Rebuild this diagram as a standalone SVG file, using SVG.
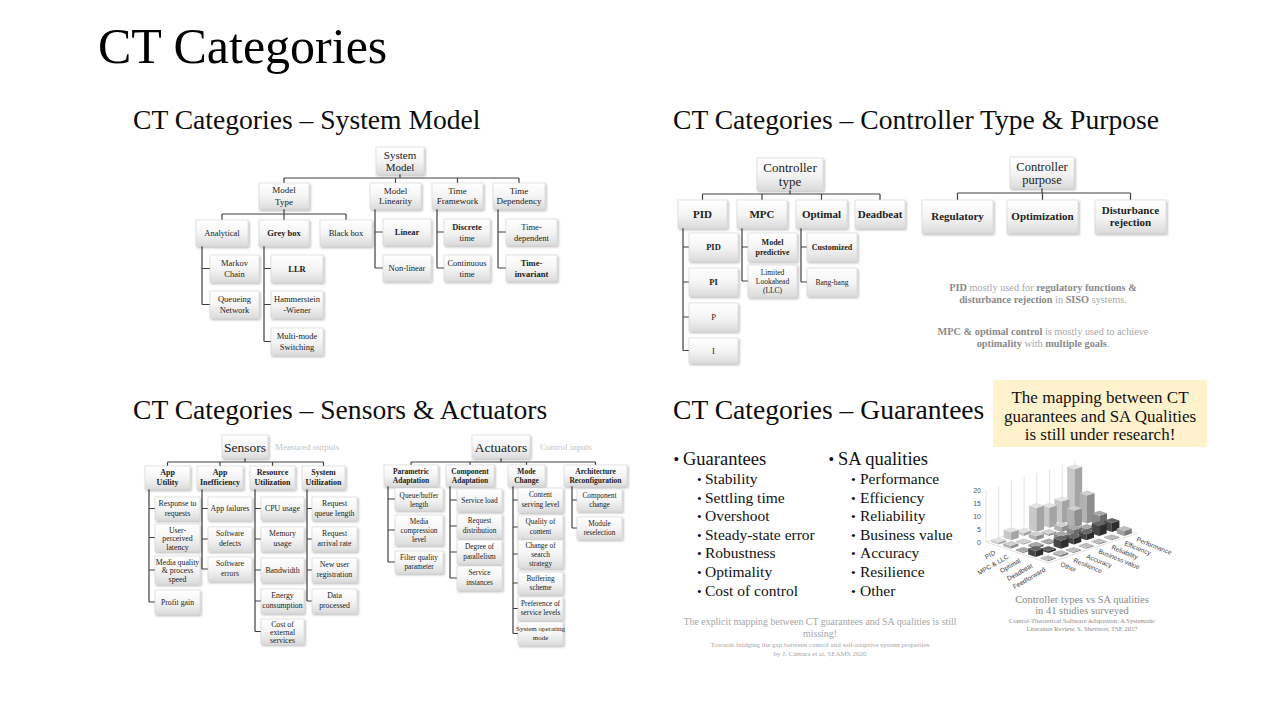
<svg xmlns="http://www.w3.org/2000/svg" width="1280" height="720" viewBox="0 0 1280 720" fill="#222">
<defs>
  <linearGradient id="bx" x1="0" y1="0" x2="0" y2="1">
    <stop offset="0" stop-color="#ffffff"/>
    <stop offset="0.5" stop-color="#f5f5f5"/>
    <stop offset="1" stop-color="#dcdcdc"/>
  </linearGradient>
  <filter id="sh" x="-20%" y="-20%" width="150%" height="160%">
    <feDropShadow dx="1.2" dy="1.6" stdDeviation="1" flood-color="#000" flood-opacity="0.3"/>
  </filter>
  <!-- 3D bar prisms, one per height; face colours are custom properties set on each use element -->
  <g id="h1"><path style="fill:var(--l)" d="M0 0L7.4 2.5V1.5L0 -1Z"/><path style="fill:var(--r)" d="M7.4 2.5L15 0V-1L7.4 1.5Z"/><path style="fill:var(--t)" d="M0 -1L7.4 1.5L15 -1L7.6 -3.5Z"/></g>
  <g id="h2"><path style="fill:var(--l)" d="M0 0L7.4 2.5V0.5L0 -2Z"/><path style="fill:var(--r)" d="M7.4 2.5L15 0V-2L7.4 0.5Z"/><path style="fill:var(--t)" d="M0 -2L7.4 0.5L15 -2L7.6 -4.5Z"/></g>
  <g id="h3"><path style="fill:var(--l)" d="M0 0L7.4 2.5V-0.5L0 -3Z"/><path style="fill:var(--r)" d="M7.4 2.5L15 0V-3L7.4 -0.5Z"/><path style="fill:var(--t)" d="M0 -3L7.4 -0.5L15 -3L7.6 -5.5Z"/></g>
  <g id="h4"><path style="fill:var(--l)" d="M0 0L7.4 2.5V-1.5L0 -4Z"/><path style="fill:var(--r)" d="M7.4 2.5L15 0V-4L7.4 -1.5Z"/><path style="fill:var(--t)" d="M0 -4L7.4 -1.5L15 -4L7.6 -6.5Z"/></g>
  <g id="h5"><path style="fill:var(--l)" d="M0 0L7.4 2.5V-2.5L0 -5Z"/><path style="fill:var(--r)" d="M7.4 2.5L15 0V-5L7.4 -2.5Z"/><path style="fill:var(--t)" d="M0 -5L7.4 -2.5L15 -5L7.6 -7.5Z"/></g>
  <g id="h6"><path style="fill:var(--l)" d="M0 0L7.4 2.5V-3.5L0 -6Z"/><path style="fill:var(--r)" d="M7.4 2.5L15 0V-6L7.4 -3.5Z"/><path style="fill:var(--t)" d="M0 -6L7.4 -3.5L15 -6L7.6 -8.5Z"/></g>
  <g id="h8"><path style="fill:var(--l)" d="M0 0L7.4 2.5V-5.5L0 -8Z"/><path style="fill:var(--r)" d="M7.4 2.5L15 0V-8L7.4 -5.5Z"/><path style="fill:var(--t)" d="M0 -8L7.4 -5.5L15 -8L7.6 -10.5Z"/></g>
  <g id="h9"><path style="fill:var(--l)" d="M0 0L7.4 2.5V-6.5L0 -9Z"/><path style="fill:var(--r)" d="M7.4 2.5L15 0V-9L7.4 -6.5Z"/><path style="fill:var(--t)" d="M0 -9L7.4 -6.5L15 -9L7.6 -11.5Z"/></g>
  <g id="h10"><path style="fill:var(--l)" d="M0 0L7.4 2.5V-7.5L0 -10Z"/><path style="fill:var(--r)" d="M7.4 2.5L15 0V-10L7.4 -7.5Z"/><path style="fill:var(--t)" d="M0 -10L7.4 -7.5L15 -10L7.6 -12.5Z"/></g>
  <g id="h12"><path style="fill:var(--l)" d="M0 0L7.4 2.5V-9.5L0 -12Z"/><path style="fill:var(--r)" d="M7.4 2.5L15 0V-12L7.4 -9.5Z"/><path style="fill:var(--t)" d="M0 -12L7.4 -9.5L15 -12L7.6 -14.5Z"/></g>
  <g id="h17"><path style="fill:var(--l)" d="M0 0L7.4 2.5V-14.5L0 -17Z"/><path style="fill:var(--r)" d="M7.4 2.5L15 0V-17L7.4 -14.5Z"/><path style="fill:var(--t)" d="M0 -17L7.4 -14.5L15 -17L7.6 -19.5Z"/></g>
  <g id="h20"><path style="fill:var(--l)" d="M0 0L7.4 2.5V-17.5L0 -20Z"/><path style="fill:var(--r)" d="M7.4 2.5L15 0V-20L7.4 -17.5Z"/><path style="fill:var(--t)" d="M0 -20L7.4 -17.5L15 -20L7.6 -22.5Z"/></g>
  <g id="h22"><path style="fill:var(--l)" d="M0 0L7.4 2.5V-19.5L0 -22Z"/><path style="fill:var(--r)" d="M7.4 2.5L15 0V-22L7.4 -19.5Z"/><path style="fill:var(--t)" d="M0 -22L7.4 -19.5L15 -22L7.6 -24.5Z"/></g>
  <g id="h24"><path style="fill:var(--l)" d="M0 0L7.4 2.5V-21.5L0 -24Z"/><path style="fill:var(--r)" d="M7.4 2.5L15 0V-24L7.4 -21.5Z"/><path style="fill:var(--t)" d="M0 -24L7.4 -21.5L15 -24L7.6 -26.5Z"/></g>
  <g id="h28"><path style="fill:var(--l)" d="M0 0L7.4 2.5V-25.5L0 -28Z"/><path style="fill:var(--r)" d="M7.4 2.5L15 0V-28L7.4 -25.5Z"/><path style="fill:var(--t)" d="M0 -28L7.4 -25.5L15 -28L7.6 -30.5Z"/></g>
  <g id="h50"><path style="fill:var(--l)" d="M0 0L7.4 2.5V-47.5L0 -50Z"/><path style="fill:var(--r)" d="M7.4 2.5L15 0V-50L7.4 -47.5Z"/><path style="fill:var(--t)" d="M0 -50L7.4 -47.5L15 -50L7.6 -52.5Z"/></g>
</defs>
<style>
  text{font-family:"Liberation Serif","DejaVu Serif",serif}
  .n{fill:url(#bx);stroke:#d2d2d2;stroke-width:.6;filter:url(#sh)}
  .m{text-anchor:middle}
  .b{font-weight:bold}
  .c{fill:none;stroke:#404040;stroke-width:1.2}
  .hd{font-size:27.6px;fill:#0d0d0d}
  .g{fill:#a6a6a6}
  .gb{fill:#8a8a8a;font-weight:bold}
  .faint{fill:#c4c4c4}
  .cap{fill:#8a8a8a}
  .lbl{font-family:"Liberation Sans",sans-serif;font-size:6.5px;fill:#404040}
  .ax{font-family:"Liberation Sans",sans-serif;font-size:7px;fill:#595959;text-anchor:end}
  .bl{fill:#111}
  .b0{--l:#c8c8c8;--r:#a4a4a4;--t:#e2e2e2}
  .b1{--l:#b2b2b2;--r:#8e8e8e;--t:#d0d0d0}
  .b2{--l:#8a8a8a;--r:#6a6a6a;--t:#a8a8a8}
  .b3{--l:#474747;--r:#2e2e2e;--t:#666666}
  .b4{--l:#a0a0a0;--r:#7c7c7c;--t:#bdbdbd}
</style>

<rect width="1280" height="720" fill="#ffffff"/>

<!-- headings -->
<text x="98" y="63" font-size="50" fill="#000">CT Categories</text>
<text class="hd" x="133" y="129">CT Categories – System Model</text>
<text class="hd" x="673" y="129">CT Categories – Controller Type &amp; Purpose</text>
<text class="hd" x="133" y="419">CT Categories – Sensors &amp; Actuators</text>
<text class="hd" x="673" y="419">CT Categories – Guarantees</text>

<!-- tree connectors -->
<g id="connectors">
  <path class="c" d="M400 174V178M284 178H519M284 178V183M395.5 178V183M457.5 178V183M519 178V183
    M284 209V214M222 214H346M222 214V220M284 214V220M346 214V220
    M202 246V304.5M202 268.5H210M202 304.5H210
    M264 246V341.5M264 268.5H271M264 304.5H271M264 341.5H271
    M375 209V268M375 232H383M375 268H383
    M437 209V268M437 232H444M437 268H444
    M498 209V268M498 232H506M498 268H506"/>
  <path class="c" d="M790 190V194M702.5 194H880M702.5 194V200M762 194V200M821.5 194V200M880 194V200
    M683 228V350.5M683 247H689M683 282H689M683 317H689M683 350.5H689
    M742 228V281M742 247H748M742 281H748
    M801 228V282M801 247H807M801 282H807"/>
  <path class="c" d="M1042 188V193M957.5 193H1130.5M957.5 193V200M1042.5 193V200M1130.5 193V200"/>
  <path class="c" d="M245 458V462M167.5 462H323.5M167.5 462V466M220 462V466M272.5 462V466M323.5 462V466
    M149 489V602M149 508.5H155M149 537.5H155M149 570H155M149 602H155
    M202 489V569M202 508.5H208M202 539H208M202 569H208
    M255 489V631.5M255 508.5H261M255 539H261M255 570H261M255 601H261M255 631.5H261
    M307 489V601M307 508.5H312M307 539H312M307 570H312M307 601H312"/>
  <path class="c" d="M501 458V462M411 462H595.5M411 462V465M470 462V465M526.5 462V465M595.5 462V465
    M388 486V562M388 499H395M388 530H395M388 562H395
    M450 486V578M450 500H457M450 526H457M450 552H457M450 578H457
    M513 486V633.5M513 500H518M513 527H518M513 554H518M513 583H518M513 608.5H518M513 633.5H518
    M572 486V528M572 500H577M572 528H577"/>
</g>

<!-- System model -->
<g id="sm-system-model" font-size="11"><rect class="n" x="376" y="147" width="48" height="27"/><text class="m"><tspan x="400" y="158.5">System</tspan><tspan x="400" y="170.5">Model</tspan></text></g>
<g id="sm-model-type" font-size="9"><rect class="n" x="259" y="183" width="50" height="26"/><text class="m"><tspan x="284" y="193">Model</tspan><tspan x="284" y="205">Type</tspan></text></g>
<g id="sm-model-linearity" font-size="9"><rect class="n" x="370" y="183" width="51" height="26"/><text class="m"><tspan x="395.5" y="193.5">Model</tspan><tspan x="395.5" y="204">Linearity</tspan></text></g>
<g id="sm-time-framework" font-size="9"><rect class="n" x="432" y="183" width="51" height="26"/><text class="m"><tspan x="457.5" y="193.5">Time</tspan><tspan x="457.5" y="204">Framework</tspan></text></g>
<g id="sm-time-dependency" font-size="9"><rect class="n" x="493" y="183" width="52" height="26"/><text class="m"><tspan x="519" y="193.5">Time</tspan><tspan x="519" y="204">Dependency</tspan></text></g>
<g id="sm-analytical" font-size="8.5"><rect class="n" x="196" y="220" width="52" height="26"/><text class="m" x="222" y="236">Analytical</text></g>
<g id="sm-grey-box" font-size="8.5"><rect class="n" x="259" y="220" width="50" height="26"/><text class="m b" x="284" y="236">Grey box</text></g>
<g id="sm-black-box" font-size="8.5"><rect class="n" x="320" y="220" width="52" height="26"/><text class="m" x="346" y="236">Black box</text></g>
<g id="sm-markov-chain" font-size="8.5"><rect class="n" x="210" y="255" width="49" height="27"/><text class="m"><tspan x="234.5" y="265.5">Markov</tspan><tspan x="234.5" y="276.5">Chain</tspan></text></g>
<g id="sm-queueing-network" font-size="8.5"><rect class="n" x="210" y="291" width="49" height="27"/><text class="m"><tspan x="234.5" y="301.5">Queueing</tspan><tspan x="234.5" y="312.5">Network</tspan></text></g>
<g id="sm-llr" font-size="8.5"><rect class="n" x="271" y="255" width="52" height="27"/><text class="m b" x="297" y="271.5">LLR</text></g>
<g id="sm-hammerstein-wiener" font-size="8.5"><rect class="n" x="271" y="291" width="52" height="27"/><text class="m"><tspan x="297" y="301.5">Hammerstein</tspan><tspan x="297" y="312.5">-Wiener</tspan></text></g>
<g id="sm-multi-mode" font-size="8.5"><rect class="n" x="271" y="328" width="52" height="27"/><text class="m"><tspan x="297" y="338.5">Multi-mode</tspan><tspan x="297" y="349.5">Switching</tspan></text></g>
<g id="sm-linear" font-size="8.5"><rect class="n" x="383" y="219" width="48" height="26"/><text class="m b" x="407" y="235">Linear</text></g>
<g id="sm-non-linear" font-size="8.5"><rect class="n" x="383" y="255" width="48" height="26"/><text class="m" x="407" y="271">Non-linear</text></g>
<g id="sm-discrete-time" font-size="8.5"><rect class="n" x="444" y="219" width="46" height="26"/><text class="m"><tspan class="b" x="467" y="229.5">Discrete</tspan><tspan x="467" y="241">time</tspan></text></g>
<g id="sm-continuous-time" font-size="8.5"><rect class="n" x="444" y="255" width="46" height="26"/><text class="m"><tspan x="467" y="265.5">Continuous</tspan><tspan x="467" y="277">time</tspan></text></g>
<g id="sm-time-dependent" font-size="8.5"><rect class="n" x="506" y="219" width="51" height="26"/><text class="m"><tspan x="531.5" y="229.5">Time-</tspan><tspan x="531.5" y="241">dependent</tspan></text></g>
<g id="sm-time-invariant" font-size="8.5"><rect class="n" x="506" y="255" width="51" height="26"/><text class="m b"><tspan x="531.5" y="265.5">Time-</tspan><tspan x="531.5" y="277">invariant</tspan></text></g>

<!-- Controller type -->
<g id="ct-controller-type" font-size="13"><rect class="n" x="757" y="158" width="66" height="32"/><text class="m"><tspan x="790" y="171.5">Controller</tspan><tspan x="790" y="185.5">type</tspan></text></g>
<g id="ct-pid" font-size="11"><rect class="n" x="678" y="200" width="49" height="28"/><text class="m b" x="702.5" y="218">PID</text></g>
<g id="ct-mpc" font-size="11"><rect class="n" x="737" y="200" width="50" height="28"/><text class="m b" x="762" y="218">MPC</text></g>
<g id="ct-optimal" font-size="11"><rect class="n" x="796" y="200" width="51" height="28"/><text class="m b" x="821.5" y="218">Optimal</text></g>
<g id="ct-deadbeat" font-size="11"><rect class="n" x="855" y="200" width="50" height="28"/><text class="m b" x="880" y="218">Deadbeat</text></g>
<g id="ct-pid-pid" font-size="8.5"><rect class="n" x="689" y="233" width="49" height="28"/><text class="m b" x="713.5" y="250">PID</text></g>
<g id="ct-pi" font-size="8.5"><rect class="n" x="689" y="268" width="49" height="28"/><text class="m b" x="713.5" y="285">PI</text></g>
<g id="ct-p" font-size="8.5"><rect class="n" x="689" y="303" width="49" height="28"/><text class="m" x="713.5" y="320">P</text></g>
<g id="ct-i" font-size="8.5"><rect class="n" x="689" y="338" width="49" height="25"/><text class="m" x="713.5" y="353.5">I</text></g>
<g id="ct-model-predictive" font-size="8"><rect class="n" x="748" y="233" width="49" height="28"/><text class="m b"><tspan x="772.5" y="245">Model</tspan><tspan x="772.5" y="255">predictive</tspan></text></g>
<g id="ct-limited-lookahead" font-size="7.5"><rect class="n" x="748" y="265" width="49" height="32"/><text class="m"><tspan x="772.5" y="274.5">Limited</tspan><tspan x="772.5" y="283.5">Lookahead</tspan><tspan x="772.5" y="292.5">(LLC)</tspan></text></g>
<g id="ct-customized" font-size="8"><rect class="n" x="807" y="233" width="50" height="28"/><text class="m b" x="832" y="250">Customized</text></g>
<g id="ct-bang-bang" font-size="7.5"><rect class="n" x="807" y="268" width="50" height="28"/><text class="m" x="832" y="285">Bang-bang</text></g>

<!-- Controller purpose -->
<g id="cp-controller-purpose" font-size="12.5"><rect class="n" x="1010" y="157" width="64" height="31"/><text class="m"><tspan x="1042" y="170.5">Controller</tspan><tspan x="1042" y="183.5">purpose</tspan></text></g>
<g id="cp-regulatory" font-size="11"><rect class="n" x="922" y="200" width="71" height="33"/><text class="m b" x="957.5" y="220">Regulatory</text></g>
<g id="cp-optimization" font-size="11"><rect class="n" x="1007" y="200" width="71" height="33"/><text class="m b" x="1042.5" y="220">Optimization</text></g>
<g id="cp-disturbance-rejection" font-size="11"><rect class="n" x="1095" y="200" width="71" height="33"/><text class="m b"><tspan x="1130.5" y="213.5">Disturbance</tspan><tspan x="1130.5" y="226">rejection</tspan></text></g>

<g id="controller-notes" font-size="10.3">
  <text class="m g" x="1043" y="291"><tspan class="gb">PID</tspan> mostly used for <tspan class="gb">regulatory functions &amp;</tspan></text>
  <text class="m g" x="1043" y="302.5"><tspan class="gb">disturbance rejection</tspan> in <tspan class="gb">SISO</tspan> systems.</text>
  <text class="m g" x="1043" y="335"><tspan class="gb">MPC &amp; optimal control</tspan> is mostly used to achieve</text>
  <text class="m g" x="1043" y="347"><tspan class="gb">optimality</tspan> with <tspan class="gb">multiple goals</tspan>.</text>
</g>

<!-- Sensors -->
<g id="se-sensors" font-size="13.5"><rect class="n" x="222" y="435" width="46" height="23"/><text class="m" x="245" y="451.5">Sensors</text></g>
<text class="faint" x="275" y="450" font-size="9">Measured outputs</text>
<g id="se-app-utility" font-size="8"><rect class="n" x="145" y="466" width="45" height="23"/><text class="m b"><tspan x="167.5" y="475">App</tspan><tspan x="167.5" y="485">Utility</tspan></text></g>
<g id="se-app-inefficiency" font-size="8"><rect class="n" x="197" y="466" width="46" height="23"/><text class="m b"><tspan x="220" y="475">App</tspan><tspan x="220" y="485">Inefficiency</tspan></text></g>
<g id="se-resource-utilization" font-size="8"><rect class="n" x="250" y="466" width="45" height="23"/><text class="m b"><tspan x="272.5" y="475">Resource</tspan><tspan x="272.5" y="485">Utilization</tspan></text></g>
<g id="se-system-utilization" font-size="8"><rect class="n" x="302" y="466" width="43" height="23"/><text class="m b"><tspan x="323.5" y="475">System</tspan><tspan x="323.5" y="485">Utilization</tspan></text></g>

<g id="se-response" font-size="7.8"><rect class="n" x="155" y="497" width="45" height="23"/><text class="m"><tspan x="177.5" y="506">Response to</tspan><tspan x="177.5" y="516">requests</tspan></text></g>
<g id="se-latency" font-size="7.8"><rect class="n" x="155" y="524" width="45" height="27"/><text class="m"><tspan x="177.5" y="532.5">User-</tspan><tspan x="177.5" y="541">perceived</tspan><tspan x="177.5" y="549.5">latency</tspan></text></g>
<g id="se-media-quality" font-size="7.8"><rect class="n" x="155" y="556" width="45" height="28"/><text class="m"><tspan x="177.5" y="564.5">Media quality</tspan><tspan x="177.5" y="573">&amp; process</tspan><tspan x="177.5" y="581.5">speed</tspan></text></g>
<g id="se-profit-gain" font-size="7.8"><rect class="n" x="155" y="590" width="45" height="24"/><text class="m" x="177.5" y="605">Profit gain</text></g>
<g id="se-app-failures" font-size="7.8"><rect class="n" x="208" y="497" width="44" height="23"/><text class="m" x="230" y="511">App failures</text></g>
<g id="se-software-defects" font-size="7.8"><rect class="n" x="208" y="527" width="44" height="24"/><text class="m"><tspan x="230" y="536">Software</tspan><tspan x="230" y="546">defects</tspan></text></g>
<g id="se-software-errors" font-size="7.8"><rect class="n" x="208" y="557" width="44" height="24"/><text class="m"><tspan x="230" y="566">Software</tspan><tspan x="230" y="576">errors</tspan></text></g>
<g id="se-cpu-usage" font-size="7.8"><rect class="n" x="261" y="497" width="43" height="23"/><text class="m" x="282.5" y="511">CPU usage</text></g>
<g id="se-memory-usage" font-size="7.8"><rect class="n" x="261" y="527" width="43" height="24"/><text class="m"><tspan x="282.5" y="536">Memory</tspan><tspan x="282.5" y="546">usage</tspan></text></g>
<g id="se-bandwidth" font-size="7.8"><rect class="n" x="261" y="558" width="43" height="24"/><text class="m" x="282.5" y="573">Bandwidth</text></g>
<g id="se-energy" font-size="7.8"><rect class="n" x="261" y="589" width="43" height="24"/><text class="m"><tspan x="282.5" y="598">Energy</tspan><tspan x="282.5" y="608">consumption</tspan></text></g>
<g id="se-cost-services" font-size="7.8"><rect class="n" x="261" y="619" width="43" height="25"/><text class="m"><tspan x="282.5" y="627">Cost of</tspan><tspan x="282.5" y="635">external</tspan><tspan x="282.5" y="643">services</tspan></text></g>
<g id="se-queue-length" font-size="7.8"><rect class="n" x="312" y="497" width="45" height="23"/><text class="m"><tspan x="334.5" y="506">Request</tspan><tspan x="334.5" y="516">queue length</tspan></text></g>
<g id="se-arrival-rate" font-size="7.8"><rect class="n" x="312" y="527" width="45" height="24"/><text class="m"><tspan x="334.5" y="536">Request</tspan><tspan x="334.5" y="546">arrival rate</tspan></text></g>
<g id="se-registration" font-size="7.8"><rect class="n" x="312" y="558" width="45" height="24"/><text class="m"><tspan x="334.5" y="567">New user</tspan><tspan x="334.5" y="577">registration</tspan></text></g>
<g id="se-data-processed" font-size="7.8"><rect class="n" x="312" y="589" width="45" height="24"/><text class="m"><tspan x="334.5" y="598">Data</tspan><tspan x="334.5" y="608">processed</tspan></text></g>

<!-- Actuators -->
<g id="ac-actuators" font-size="13.5"><rect class="n" x="472" y="435" width="58" height="23"/><text class="m" x="501" y="451.5">Actuators</text></g>
<text class="faint" x="540" y="450" font-size="9">Control inputs</text>
<g id="ac-parametric" font-size="7.5"><rect class="n" x="384" y="465" width="54" height="21"/><text class="m b"><tspan x="411" y="473.5">Parametric</tspan><tspan x="411" y="482.5">Adaptation</tspan></text></g>
<g id="ac-component" font-size="7.5"><rect class="n" x="446" y="465" width="48" height="21"/><text class="m b"><tspan x="470" y="473.5">Component</tspan><tspan x="470" y="482.5">Adaptation</tspan></text></g>
<g id="ac-mode-change" font-size="7.5"><rect class="n" x="508" y="465" width="37" height="21"/><text class="m b"><tspan x="526.5" y="473.5">Mode</tspan><tspan x="526.5" y="482.5">Change</tspan></text></g>
<g id="ac-architecture" font-size="7.5"><rect class="n" x="564" y="465" width="63" height="21"/><text class="m b"><tspan x="595.5" y="473.5">Architecture</tspan><tspan x="595.5" y="482.5">Reconfiguration</tspan></text></g>

<g id="ac-queue-buffer" font-size="7.3"><rect class="n" x="395" y="488" width="48" height="22"/><text class="m"><tspan x="419" y="497.5">Queue/buffer</tspan><tspan x="419" y="506.5">length</tspan></text></g>
<g id="ac-media-compression" font-size="7.3"><rect class="n" x="395" y="515" width="48" height="30"/><text class="m"><tspan x="419" y="523.5">Media</tspan><tspan x="419" y="532.5">compression</tspan><tspan x="419" y="541.5">level</tspan></text></g>
<g id="ac-filter-quality" font-size="7.3"><rect class="n" x="395" y="551" width="48" height="22"/><text class="m"><tspan x="419" y="560">Filter quality</tspan><tspan x="419" y="569">parameter</tspan></text></g>
<g id="ac-service-load" font-size="7.3"><rect class="n" x="457" y="489" width="45" height="22"/><text class="m" x="479.5" y="503">Service load</text></g>
<g id="ac-request-distribution" font-size="7.3"><rect class="n" x="457" y="514" width="45" height="24"/><text class="m"><tspan x="479.5" y="523">Request</tspan><tspan x="479.5" y="533">distribution</tspan></text></g>
<g id="ac-parallelism" font-size="7.3"><rect class="n" x="457" y="540" width="45" height="24"/><text class="m"><tspan x="479.5" y="549">Degree of</tspan><tspan x="479.5" y="559">parallelism</tspan></text></g>
<g id="ac-service-instances" font-size="7.3"><rect class="n" x="457" y="566" width="45" height="24"/><text class="m"><tspan x="479.5" y="575">Service</tspan><tspan x="479.5" y="585">instances</tspan></text></g>
<g id="ac-content-serving" font-size="7.3"><rect class="n" x="518" y="488" width="45" height="24"/><text class="m"><tspan x="540.5" y="497">Content</tspan><tspan x="540.5" y="507">serving level</tspan></text></g>
<g id="ac-quality-content" font-size="7.3"><rect class="n" x="518" y="515" width="45" height="24"/><text class="m"><tspan x="540.5" y="524">Quality of</tspan><tspan x="540.5" y="534">content</tspan></text></g>
<g id="ac-search-strategy" font-size="7.3"><rect class="n" x="518" y="540" width="45" height="28"/><text class="m"><tspan x="540.5" y="548">Change of</tspan><tspan x="540.5" y="557">search</tspan><tspan x="540.5" y="566">strategy</tspan></text></g>
<g id="ac-buffering" font-size="7.3"><rect class="n" x="518" y="572" width="45" height="22"/><text class="m"><tspan x="540.5" y="580.5">Buffering</tspan><tspan x="540.5" y="590">scheme</tspan></text></g>
<g id="ac-service-levels" font-size="7.3"><rect class="n" x="518" y="597" width="45" height="23"/><text class="m"><tspan x="540.5" y="605.5">Preference of</tspan><tspan x="540.5" y="615">service levels</tspan></text></g>
<g id="ac-operating-mode" font-size="7"><rect class="n" x="518" y="622" width="45" height="23"/><text class="m"><tspan x="540.5" y="630.5">System operating</tspan><tspan x="540.5" y="640">mode</tspan></text></g>
<g id="ac-component-change" font-size="7.3"><rect class="n" x="577" y="489" width="45" height="22"/><text class="m"><tspan x="599.5" y="497.5">Component</tspan><tspan x="599.5" y="507">change</tspan></text></g>
<g id="ac-module-reselection" font-size="7.3"><rect class="n" x="577" y="517" width="45" height="22"/><text class="m"><tspan x="599.5" y="525.5">Module</tspan><tspan x="599.5" y="535">reselection</tspan></text></g>

<!-- Guarantees -->
<g id="guarantees-list">
  <text class="bl" x="673.5" y="465" font-size="16">•</text><text class="bl" x="683" y="465" font-size="18.5">Guarantees</text>
  <g font-size="15.5">
    <text class="bl" x="697" y="484" font-size="13.5">•</text><text class="bl" x="705" y="484">Stability</text>
    <text class="bl" x="697" y="503" font-size="13.5">•</text><text class="bl" x="705" y="503">Settling time</text>
    <text class="bl" x="697" y="521" font-size="13.5">•</text><text class="bl" x="705" y="521">Overshoot</text>
    <text class="bl" x="697" y="540" font-size="13.5">•</text><text class="bl" x="705" y="540">Steady-state error</text>
    <text class="bl" x="697" y="558" font-size="13.5">•</text><text class="bl" x="705" y="558">Robustness</text>
    <text class="bl" x="697" y="577" font-size="13.5">•</text><text class="bl" x="705" y="577">Optimality</text>
    <text class="bl" x="697" y="596" font-size="13.5">•</text><text class="bl" x="705" y="596">Cost of control</text>
  </g>
  <text class="bl" x="828.5" y="465" font-size="16">•</text><text class="bl" x="838" y="465" font-size="18.5">SA qualities</text>
  <g font-size="15.5">
    <text class="bl" x="851" y="484" font-size="13.5">•</text><text class="bl" x="860" y="484">Performance</text>
    <text class="bl" x="851" y="503" font-size="13.5">•</text><text class="bl" x="860" y="503">Efficiency</text>
    <text class="bl" x="851" y="521" font-size="13.5">•</text><text class="bl" x="860" y="521">Reliability</text>
    <text class="bl" x="851" y="540" font-size="13.5">•</text><text class="bl" x="860" y="540">Business value</text>
    <text class="bl" x="851" y="558" font-size="13.5">•</text><text class="bl" x="860" y="558">Accuracy</text>
    <text class="bl" x="851" y="577" font-size="13.5">•</text><text class="bl" x="860" y="577">Resilience</text>
    <text class="bl" x="851" y="596" font-size="13.5">•</text><text class="bl" x="860" y="596">Other</text>
  </g>
</g>
<g id="guarantees-source">
  <text class="m g" x="820" y="625" font-size="9.9">The explicit mapping between CT guarantees and SA qualities is still</text>
  <text class="m g" x="820" y="637" font-size="9.9">missing!</text>
  <text class="m g" x="820" y="647" font-size="7">Towards bridging the gap between control and self-adaptive system properties</text>
  <text class="m g" x="820" y="655.5" font-size="7">by J. Cámara et al, SEAMS 2020</text>
</g>

<!-- callout -->
<g id="research-note">
  <rect x="993" y="380" width="214" height="67" fill="#fff2cc"/>
  <text class="m bl" font-size="17"><tspan x="1100" y="403">The mapping between CT</tspan><tspan x="1100" y="421.5">guarantees and SA Qualities</tspan><tspan x="1100" y="440">is still under research!</tspan></text>
</g>

<!-- 3D column chart: controller types vs SA qualities -->
<g id="chart">
  <polygon points="986,542 1048,563 1136.9,533.6 1074.9,512.6" fill="#ffffff" stroke="#cfcfcf" stroke-width="0.6"/>
  <path d="M986 542V490M998.7 537.8V485.8M1011.4 533.6V481.6M1024.1 529.4V477.4M1036.8 525.2V473.2M1049.5 521V469M1062.2 516.8V464.8M1074.9 512.6V460.6" stroke="#d9d9d9" stroke-width="0.7" fill="none"/>
  <text class="ax" x="981" y="492.5">20</text>
  <text class="ax" x="981" y="505.5">15</text>
  <text class="ax" x="981" y="518.5">10</text>
  <text class="ax" x="981" y="531.5">5</text>
  <text class="ax" x="981" y="544.5">0</text>
  <g id="bars">
    <use href="#h50" x="1067.2" y="516.8" class="b0"/>
    <use href="#h28" x="1079.6" y="521" class="b1"/>
    <use href="#h12" x="1092" y="525.2" class="b2"/>
    <use href="#h9" x="1104.4" y="529.4" class="b3"/>
    <use href="#h5" x="1116.8" y="533.6" class="b4"/>
    <use href="#h22" x="1054.5" y="521" class="b0"/>
    <use href="#h17" x="1066.9" y="525.2" class="b1"/>
    <use href="#h3" x="1079.3" y="529.4" class="b2"/>
    <use href="#h10" x="1091.7" y="533.6" class="b3"/>
    <use href="#h1" x="1104.1" y="537.8" class="b4"/>
    <use href="#h20" x="1041.8" y="525.2" class="b0"/>
    <use href="#h5" x="1054.2" y="529.4" class="b1"/>
    <use href="#h6" x="1066.6" y="533.6" class="b2"/>
    <use href="#h6" x="1079" y="537.8" class="b3"/>
    <use href="#h1" x="1091.4" y="542" class="b4"/>
    <use href="#h24" x="1029.1" y="529.4" class="b0"/>
    <use href="#h2" x="1041.5" y="533.6" class="b1"/>
    <use href="#h4" x="1053.9" y="537.8" class="b2"/>
    <use href="#h6" x="1066.3" y="542" class="b3"/>
    <use href="#h1" x="1078.7" y="546.2" class="b4"/>
    <use href="#h3" x="1016.4" y="533.6" class="b0"/>
    <use href="#h4" x="1028.8" y="537.8" class="b1"/>
    <use href="#h1" x="1041.2" y="542" class="b2"/>
    <use href="#h8" x="1053.6" y="546.2" class="b3"/>
    <use href="#h1" x="1066" y="550.4" class="b4"/>
    <use href="#h8" x="1003.7" y="537.8" class="b0"/>
    <use href="#h1" x="1016.1" y="542" class="b1"/>
    <use href="#h2" x="1028.5" y="546.2" class="b2"/>
    <use href="#h2" x="1040.9" y="550.4" class="b3"/>
    <use href="#h2" x="1053.3" y="554.6" class="b4"/>
    <use href="#h2" x="991" y="542" class="b0"/>
    <use href="#h3" x="1003.4" y="546.2" class="b1"/>
    <use href="#h1" x="1015.8" y="550.4" class="b2"/>
    <use href="#h6" x="1028.2" y="554.6" class="b3"/>
    <use href="#h1" x="1040.6" y="558.8" class="b4"/>
  </g>
  <g id="category-labels" text-anchor="end">
    <text class="lbl" transform="translate(996 554) rotate(-30)">PID</text>
    <text class="lbl" transform="translate(1009 558) rotate(-30)">MPC &amp; LLC</text>
    <text class="lbl" transform="translate(1021 562) rotate(-30)">Optimal</text>
    <text class="lbl" transform="translate(1033 567) rotate(-30)">Deadbeat</text>
    <text class="lbl" transform="translate(1046 571) rotate(-30)">Feedforward</text>
  </g>
  <g id="series-labels">
    <text class="lbl" transform="translate(1060 566) rotate(22)">Other</text>
    <text class="lbl" transform="translate(1073 562) rotate(22)">Resilience</text>
    <text class="lbl" transform="translate(1086 558) rotate(22)">Accuracy</text>
    <text class="lbl" transform="translate(1098 553) rotate(22)">Business value</text>
    <text class="lbl" transform="translate(1111 549) rotate(22)">Reliability</text>
    <text class="lbl" transform="translate(1124 545) rotate(22)">Efficiency</text>
    <text class="lbl" transform="translate(1136 541) rotate(22)">Performance</text>
  </g>
  <g id="chart-caption">
    <text class="m cap" x="1082" y="603" font-size="10.5">Controller types vs SA qualities</text>
    <text class="m cap" x="1082" y="614" font-size="10.5">in 41 studies surveyed</text>
    <text class="m cap" x="1082" y="623" font-size="6.6">Control-Theoretical Software Adaptation: A Systematic</text>
    <text class="m cap" x="1082" y="631" font-size="6.6">Literature Review, S. Shevtsov, TSE 2017</text>
  </g>
</g>
</svg>
